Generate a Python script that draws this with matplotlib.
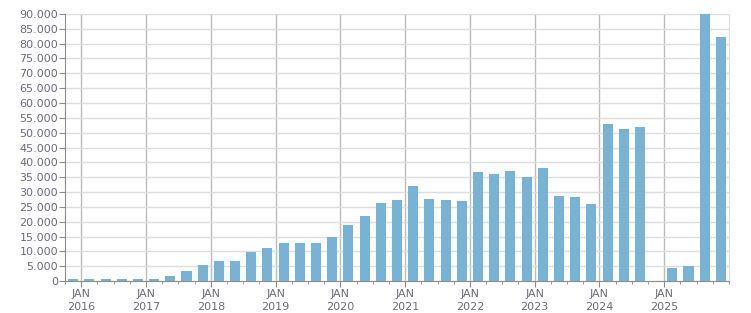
import numpy as np
import matplotlib
matplotlib.use("Agg")
import matplotlib.pyplot as plt
from matplotlib.ticker import FuncFormatter, MultipleLocator

# quarterly values, Q4 2015 .. Q4 2025
quarters = ["2015Q4",
            "2016Q1", "2016Q2", "2016Q3", "2016Q4",
            "2017Q1", "2017Q2", "2017Q3", "2017Q4",
            "2018Q1", "2018Q2", "2018Q3", "2018Q4",
            "2019Q1", "2019Q2", "2019Q3", "2019Q4",
            "2020Q1", "2020Q2", "2020Q3", "2020Q4",
            "2021Q1", "2021Q2", "2021Q3", "2021Q4",
            "2022Q1", "2022Q2", "2022Q3", "2022Q4",
            "2023Q1", "2023Q2", "2023Q3", "2023Q4",
            "2024Q1", "2024Q2", "2024Q3", "2024Q4",
            "2025Q1", "2025Q2", "2025Q3", "2025Q4"]
values = [600,
          600, 600, 600, 600,
          600, 1700, 3400, 5400,
          6700, 6700, 9900, 11100,
          12800, 12800, 12800, 14800,
          18900, 21900, 26300, 27300,
          32000, 27600, 27300, 27000,
          36700, 36100, 37100, 35100,
          38100, 28600, 28300, 26000,
          52900, 51200, 51900, 0,
          4400, 5100, 90000, 82200]
years = list(range(2016, 2026))

# position of each bar: middle of its quarter, in year units
xpos = np.array([int(q[:4]) + (int(q[-1]) - 1) * 0.25 + 0.125 for q in quarters])

label_col = "#6f6a7a"
fig = plt.figure(figsize=(7.51, 3.13), dpi=100)
ax = fig.add_axes([0.0866, 0.1022, 0.8841, 0.8531])

ax.bar(xpos, values, width=0.155, color="#78b2d4", zorder=3)

ax.set_xlim(2015.75, 2026.0)
ax.set_ylim(0, 90000)

ax.yaxis.set_major_locator(MultipleLocator(5000))
ax.yaxis.set_major_formatter(FuncFormatter(lambda v, p: f"{int(v):,}".replace(",", ".")))
ax.set_xticks(years)
ax.set_xticklabels([f"JAN\n{y}" for y in years])
ax.xaxis.set_minor_locator(MultipleLocator(0.25))

ax.grid(axis="y", color="#dedede", linewidth=1, zorder=0)
ax.grid(axis="x", which="major", color="#bcbcbc", linewidth=1, zorder=1)

for s in ["top"]:
    ax.spines[s].set_visible(False)
ax.spines["right"].set_color("#dedede")
ax.spines["left"].set_color("#8c8c8c")
ax.spines["bottom"].set_color("#8c8c8c")

ax.tick_params(axis="y", length=4, color="#8c8c8c", labelsize=8, labelcolor=label_col, pad=1)
ax.tick_params(axis="x", which="major", length=4, color="#8c8c8c", labelsize=8,
               labelcolor=label_col, pad=2)
ax.tick_params(axis="x", which="minor", length=2, color="#8c8c8c")
for t in ax.get_xticklabels():
    t.set_linespacing(1.3)

fig.savefig("out.png", dpi=100)
